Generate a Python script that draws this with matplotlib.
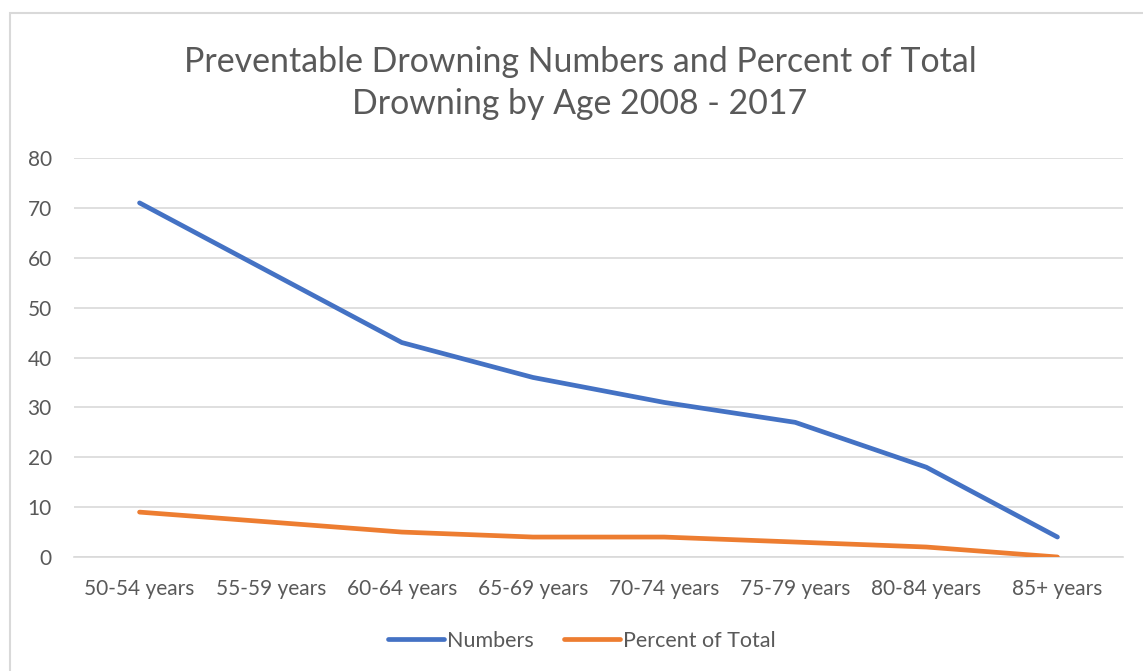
import matplotlib
matplotlib.use('Agg')
from matplotlib import pyplot as plt
import matplotlib.patches as patches

plt.rcParams['font.family'] = ['Lato', 'DejaVu Sans']

categories = ['50-54 years', '55-59 years', '60-64 years', '65-69 years',
              '70-74 years', '75-79 years', '80-84 years', '85+ years']
numbers = [71, 57, 43, 36, 31, 27, 18, 4]
percent_of_total = [9, 7, 5, 4, 4, 3, 2, 0]
y_ticks = list(range(0, 90, 10))

title = 'Preventable Drowning Numbers and Percent of Total\nDrowning by Age 2008 - 2017'
text_color = '#595959'
grid_color = '#D9D9D9'

fig = plt.figure(figsize=(11.43, 6.71), dpi=100)

# chart border like excel
border = patches.Rectangle((10 / 1143, -0.01), 1.2, 1 - 13 / 671 + 0.01,
                           transform=fig.transFigure, fill=False,
                           edgecolor=grid_color, linewidth=1.5)
fig.patches.append(border)

ax = fig.add_axes([74 / 1143, 1 - 557 / 671, (1123 - 74) / 1143, (557 - 158) / 671])

x = list(range(len(categories)))
ax.plot(x, numbers, color='#4472C4', linewidth=3.4, solid_capstyle='round',
        solid_joinstyle='round', label='Numbers', zorder=3)
ax.plot(x, percent_of_total, color='#ED7D31', linewidth=3.4, solid_capstyle='round',
        solid_joinstyle='round', label='Percent of Total', zorder=3)

ax.set_xlim(-0.5, len(categories) - 0.5)
ax.set_ylim(0, 80)
ax.set_yticks(y_ticks)
ax.set_yticklabels(y_ticks, fontsize=15, color=text_color)
ax.set_xticks(x)
ax.set_xticklabels(categories, fontsize=15, color=text_color)
ax.tick_params(axis='y', length=0, pad=16)
ax.tick_params(axis='x', length=0, pad=16)

ax.grid(axis='y', color=grid_color, linewidth=1.2, zorder=0)
for s in ['top', 'right', 'left']:
    ax.spines[s].set_visible(False)
ax.spines['bottom'].set_color(grid_color)
ax.spines['bottom'].set_linewidth(1.2)

fig.text(580 / 1143, 1 - 83 / 671, title, ha='center', va='center',
         fontsize=24.4, color=text_color, linespacing=1.42)

leg = ax.legend(loc='center', bbox_to_anchor=(582 / 1143, 1 - 641 / 671),
                bbox_transform=fig.transFigure, ncol=2, frameon=False,
                fontsize=15.5, handlelength=2.6, handletextpad=0.15, columnspacing=1.4)
for t in leg.get_texts():
    t.set_color(text_color)

fig.savefig('out.png', dpi=100)
plt.close()
